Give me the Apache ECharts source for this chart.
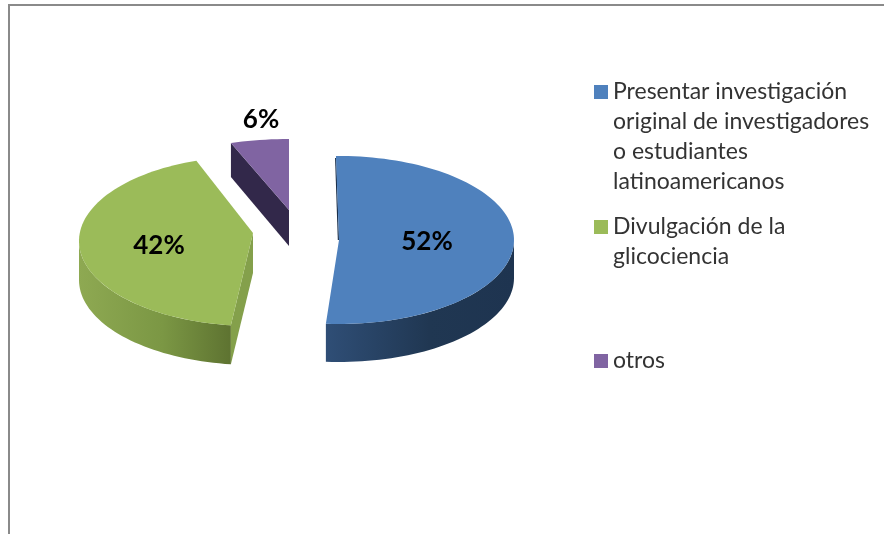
<!DOCTYPE html>
<html>
<head>
<meta charset="utf-8">
<title>Pie</title>
<script src="https://cdn.jsdelivr.net/npm/echarts@6/dist/echarts.min.js"></script>
<style>
  html, body { margin: 0; padding: 0; background: #fff; }
  #chart { width: 884px; height: 534px; }
</style>
</head>
<body>
<div id="chart"></div>
<script>
// datos
const categories = [
    'Presentar investigación original de investigadores o estudiantes latinoamericanos',
    'Divulgación de la glicociencia',
    'otros'
];
const values = [52, 42, 6];
const legendLines = [
    ['Presentar investigación', 'original de investigadores', 'o estudiantes', 'latinoamericanos'],
    ['Divulgación de la', 'glicociencia'],
    ['otros']
];

const FONT = 'Lato, "Open Sans", sans-serif';
const colors = ['#4f81bd', '#9bbb59', '#8064a2'];

// sitio de cada porción en el "3D" falso (skew = corrección de perspectiva en grados)
const slices = [
    { cx: 339, cy: 240, rx: 175, ry: 84, tipY: 240, depth: 38, skew: [-1, -2.9], label: [427, 242],
      wall: ['#2f4e76', '#203752', '#1e3450'], face: '#1b2f49', faceDepth: 0 },
    { cx: 253, cy: 241, rx: 174, ry: 85, tipY: 233, depth: 39, skew: [0.1, 2.6], label: [159, 246],
      wall: ['#8ea952', '#7b9744', '#5e7331'], face: '#84a04b', faceDepth: 40 },
    { cx: 289, cy: 210, rx: 174, ry: 71, tipY: 210, depth: 0, skew: [2.1, 0], label: [261, 120],
      wall: ['#32284a', '#32284a', '#32284a'], face: '#32284a', faceDepth: 36 }
];
const legendTops = [77, 212, 346];

const total = values.reduce((a, b) => a + b, 0);

function point(s, deg, dy) {
    const a = deg * Math.PI / 180;
    return [s.cx + s.rx * Math.sin(a), s.cy - s.ry * Math.cos(a) + (dy || 0)];
}

function arc(s, from, to, dy) {
    const pts = [];
    const n = Math.max(2, Math.ceil(Math.abs(to - from) / 2));
    for (let i = 0; i <= n; i++) {
        pts.push(point(s, from + (to - from) * i / n, dy));
    }
    return pts;
}

// cada porción sale del valor: ángulos acumulados sobre el total
function makeRenderItem(index) {
    return function (params, api) {
        const s = slices[index];
        const before = values.slice(0, index).reduce((a, b) => a + b, 0);
        const start = before / total * 360 + s.skew[0];
        const end = (before + api.value(0)) / total * 360 + s.skew[1];
        const children = [];

        // pared frontal curva
        const wallFrom = Math.max(start, 90);
        const wallTo = Math.min(end, 270);
        if (s.depth > 0 && wallTo > wallFrom) {
            const top = arc(s, wallFrom, wallTo, 0);
            const bottom = arc(s, wallTo, wallFrom, s.depth);
            children.push({
                type: 'polygon',
                shape: { points: top.concat(bottom) },
                style: {
                    fill: new echarts.graphic.LinearGradient(0, 0, 1, 0, [
                        { offset: 0, color: s.wall[0] },
                        { offset: 0.55, color: s.wall[1] },
                        { offset: 1, color: s.wall[2] }
                    ])
                }
            });
        }

        // cara del corte (lado izquierdo de la cuña)
        const edge = point(s, start, 0);
        if (s.faceDepth > 0) {
            const wallDepth = s.depth || s.faceDepth - 2;
            children.push({
                type: 'polygon',
                shape: {
                    points: [
                        [s.cx, s.tipY],
                        [s.cx, s.tipY + s.faceDepth],
                        [edge[0], edge[1] + wallDepth],
                        edge
                    ]
                },
                style: { fill: s.face }
            });
        } else {
            // la porción azul apenas deja ver el corte
            children.push({
                type: 'polyline',
                shape: { points: [[edge[0] - 0.3, edge[1] + 2], [s.cx - 0.6, s.tipY]] },
                style: { stroke: s.face, lineWidth: 1.2, fill: null }
            });
        }

        // cara superior
        children.push({
            type: 'polygon',
            shape: { points: [[s.cx, s.tipY]].concat(arc(s, start, end, 0)) },
            style: { fill: colors[index] }
        });

        children.push({
            type: 'text',
            style: {
                x: s.label[0],
                y: s.label[1],
                text: Math.round(api.value(0) / total * 100) + '%',
                fill: '#000',
                font: 'bold 26px ' + FONT,
                align: 'center',
                verticalAlign: 'middle'
            }
        });

        return { type: 'group', children: children };
    };
}

const chart = echarts.init(document.getElementById('chart'), null, { renderer: 'canvas' });

// icono con caja del alto del texto para que el cuadro quede en la primera línea
const LINE_HEIGHT = 30;
function legendIcon(lines) {
    const h = lines * LINE_HEIGHT;
    return 'path://M0 8H14V22H0Z M0 0L0 0 M14 ' + h + 'L14 ' + h;
}

const option = {
    backgroundColor: '#fff',
    animation: false,
    graphic: [{
        type: 'rect',
        silent: true,
        shape: { x: 9, y: 5, width: 1200, height: 1000 },
        style: { fill: null, stroke: '#8a8a8a', lineWidth: 2 }
    }],
    legend: categories.map((name, i) => ({
        left: 594,
        top: legendTops[i],
        padding: 0,
        orient: 'vertical',
        selectedMode: false,
        data: [{ name: name, icon: legendIcon(legendLines[i].length) }],
        itemWidth: 14,
        itemHeight: legendLines[i].length * LINE_HEIGHT,
        formatter: () => legendLines[i].join('\n'),
        textStyle: {
            fontFamily: FONT,
            fontSize: 23,
            lineHeight: LINE_HEIGHT,
            color: '#333'
        }
    })),
    series: categories.map((name, i) => ({
        type: 'custom',
        name: name,
        coordinateSystem: 'none',
        itemStyle: { color: colors[i] },
        renderItem: makeRenderItem(i),
        data: [[values[i]]]
    }))
};

chart.setOption(option);
</script>
</body>
</html>
